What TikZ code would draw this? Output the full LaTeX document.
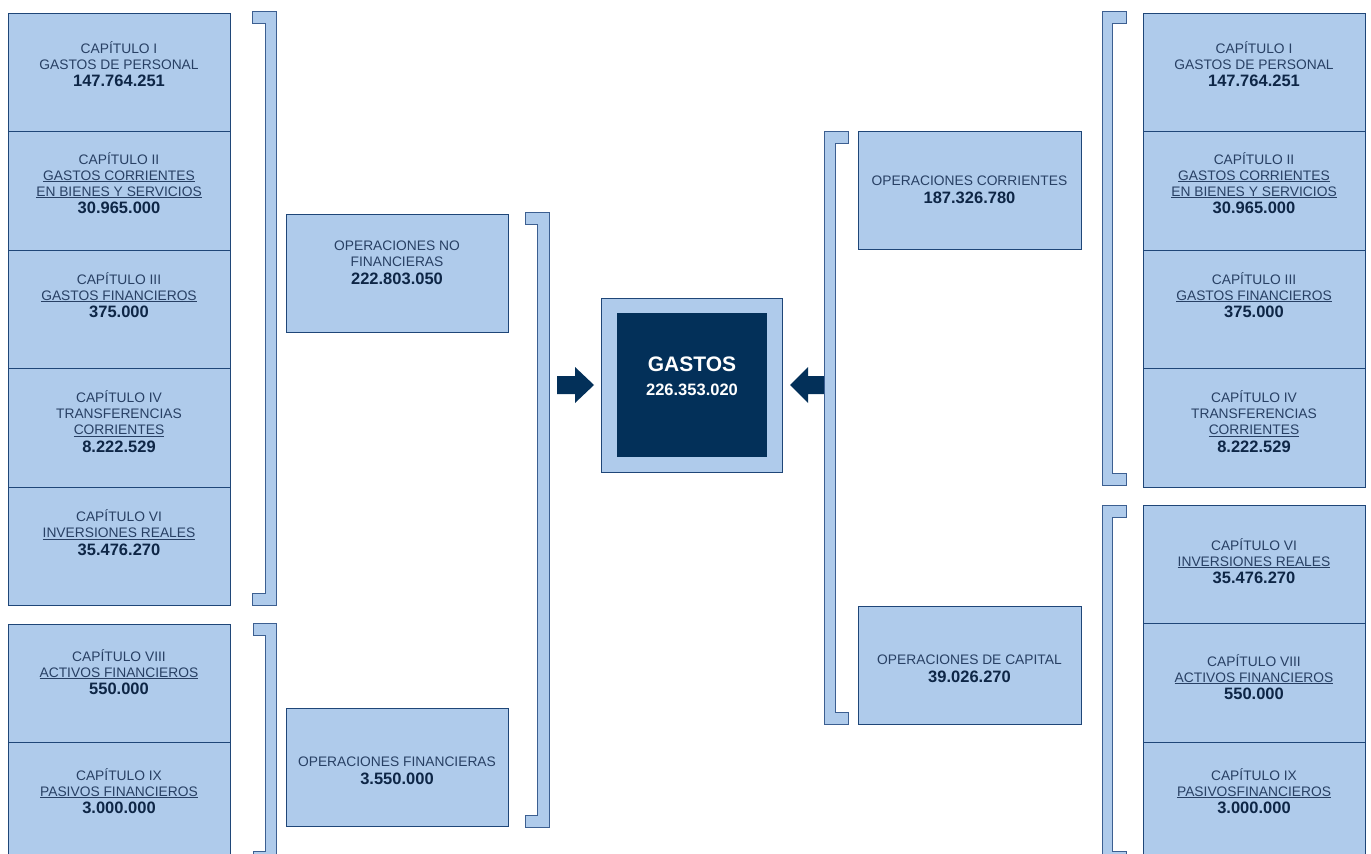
\documentclass[tikz,border=0pt]{standalone}
\usepackage{fontspec}
\setmainfont{Liberation Sans}
\definecolor{lb}{RGB}{175,203,235}
\definecolor{bd}{RGB}{31,70,120}
\definecolor{brc}{RGB}{60,95,145}
\definecolor{tx}{RGB}{40,64,100}
\definecolor{numc}{RGB}{14,38,70}
\definecolor{navy}{RGB}{3,48,89}
\newcommand\nmb[1]{{\fontsize{16.5}{16}\selectfont\bfseries\color{numc}#1}}
\newcommand\uln[1]{\underline{#1}}
\begin{document}
\begin{tikzpicture}[x=1pt,y=-1pt,
  box/.style={draw=bd, fill=lb, line width=0.9pt, inner sep=0pt},
  txt/.style={text=tx, align=center, font=\fontsize{13.8}{16}\selectfont, inner sep=0pt},
  brk/.style={draw=brc, fill=lb, line width=0.8pt, line join=miter},
  arr/.style={fill=navy, draw=none}
]
\useasboundingbox[fill=white] (0,0) rectangle (1371,854);

% ---------- left column ----------
\node[box, minimum width=222pt, minimum height=118pt] (L1) at (119,72) {};
\node[box, minimum width=222pt, minimum height=119pt] (L2) at (119,190.5) {};
\node[box, minimum width=222pt, minimum height=118pt] (L3) at (119,309) {};
\node[box, minimum width=222pt, minimum height=119pt] (L4) at (119,427.5) {};
\node[box, minimum width=222pt, minimum height=118pt] (L6) at (119,546) {};
\node[box, minimum width=222pt, minimum height=118pt] (L8) at (119,683) {};
\node[box, minimum width=222pt, minimum height=119pt] (L9) at (119,801.5) {};

\node[txt] (tL1) at (119,64) {CAPÍTULO I\\GASTOS DE PERSONAL\\[1.5pt]\nmb{147.764.251}};
\node[txt] (tL2) at (119,183) {CAPÍTULO II\\\uln{GASTOS CORRIENTES}\\\uln{EN BIENES Y SERVICIOS}\\[1.5pt]\nmb{30.965.000}};
\node[txt] (tL3) at (119,295) {CAPÍTULO III\\\uln{GASTOS FINANCIEROS}\\[1.5pt]\nmb{375.000}};
\node[txt] (tL4) at (119,421.5) {CAPÍTULO IV\\TRANSFERENCIAS\\\uln{CORRIENTES}\\[1.5pt]\nmb{8.222.529}};
\node[txt] (tL6) at (119,532.5) {CAPÍTULO VI\\\uln{INVERSIONES REALES}\\[1.5pt]\nmb{35.476.270}};
\node[txt] (tL8) at (119,672) {CAPÍTULO VIII\\\uln{ACTIVOS FINANCIEROS}\\[1.5pt]\nmb{550.000}};
\node[txt] (tL9) at (119,791) {CAPÍTULO IX\\\uln{PASIVOS FINANCIEROS}\\[1.5pt]\nmb{3.000.000}};

% ---------- left brackets ----------
\draw[brk] (252,11) -- (276,11) -- (276,605) -- (252,605) -- (252,593) -- (265,593) -- (265,23) -- (252,23) -- cycle;
\draw[brk] (253,623) -- (276,623) -- (276,866) -- (253,866) -- (253,851) -- (265,851) -- (265,635) -- (253,635) -- cycle;

% ---------- middle-left boxes ----------
\node[box, minimum width=222pt, minimum height=118pt] (ONF) at (397,273) {};
\node[txt] (tONF) at (397,263) {OPERACIONES NO\\FINANCIERAS\\[1.5pt]\nmb{222.803.050}};
\node[box, minimum width=222pt, minimum height=118pt] (OF) at (397,767) {};
\node[txt] (tOF) at (397,771) {OPERACIONES FINANCIERAS\\[1.5pt]\nmb{3.550.000}};

\draw[brk] (525,212) -- (549,212) -- (549,827) -- (525,827) -- (525,815) -- (537,815) -- (537,224) -- (525,224) -- cycle;

% ---------- centre ----------
\node[box, minimum width=181pt, minimum height=174pt] (G) at (691.5,385) {};
\node[fill=navy, draw=none, minimum width=150pt, minimum height=144pt, inner sep=0pt] (Gin) at (692,385) {};
\node[align=center, inner sep=0pt, text=white, font=\fontsize{21}{24}\selectfont] (tG) at (692,376)
  {{\bfseries GASTOS}\\{\fontsize{16.5}{16}\selectfont\bfseries 226.353.020}};

\fill[arr] (557,376) -- (575,376) -- (575,367) -- (594,385) -- (575,403) -- (575,394) -- (557,394) -- cycle;
\fill[arr] (825,376) -- (808,376) -- (808,367) -- (790,385) -- (808,403) -- (808,394) -- (825,394) -- cycle;

% ---------- middle-right ----------
\draw[brk] (824,131) -- (848,131) -- (848,143) -- (835,143) -- (835,712) -- (848,712) -- (848,724) -- (824,724) -- cycle;
\node[box, minimum width=223pt, minimum height=118pt] (OC) at (969.5,190) {};
\node[txt] (tOC) at (969.5,190) {OPERACIONES CORRIENTES\\[1.5pt]\nmb{187.326.780}};
\node[box, minimum width=223pt, minimum height=118pt] (OK) at (969.5,665) {};
\node[txt] (tOK) at (969.5,669) {OPERACIONES DE CAPITAL\\[1.5pt]\nmb{39.026.270}};

% ---------- right brackets ----------
\draw[brk] (1102,11) -- (1126,11) -- (1126,23) -- (1112,23) -- (1112,473) -- (1126,473) -- (1126,485) -- (1102,485) -- cycle;
\draw[brk] (1102,505) -- (1126,505) -- (1126,517) -- (1112,517) -- (1112,851) -- (1126,851) -- (1126,866) -- (1102,866) -- cycle;

% ---------- right column ----------
\node[box, minimum width=222pt, minimum height=118pt] (R1) at (1254,72) {};
\node[box, minimum width=222pt, minimum height=119pt] (R2) at (1254,190.5) {};
\node[box, minimum width=222pt, minimum height=118pt] (R3) at (1254,309) {};
\node[box, minimum width=222pt, minimum height=119pt] (R4) at (1254,427.5) {};
\node[box, minimum width=222pt, minimum height=118pt] (R6) at (1254,564) {};
\node[box, minimum width=222pt, minimum height=119pt] (R8) at (1254,682.5) {};
\node[box, minimum width=222pt, minimum height=119pt] (R9) at (1254,801.5) {};

\node[txt] (tR1) at (1254,64) {CAPÍTULO I\\GASTOS DE PERSONAL\\[1.5pt]\nmb{147.764.251}};
\node[txt] (tR2) at (1254,183) {CAPÍTULO II\\\uln{GASTOS CORRIENTES}\\\uln{EN BIENES Y SERVICIOS}\\[1.5pt]\nmb{30.965.000}};
\node[txt] (tR3) at (1254,295) {CAPÍTULO III\\\uln{GASTOS FINANCIEROS}\\[1.5pt]\nmb{375.000}};
\node[txt] (tR4) at (1254,421.5) {CAPÍTULO IV\\TRANSFERENCIAS\\\uln{CORRIENTES}\\[1.5pt]\nmb{8.222.529}};
\node[txt] (tR6) at (1254,561) {CAPÍTULO VI\\\uln{INVERSIONES REALES}\\[1.5pt]\nmb{35.476.270}};
\node[txt] (tR8) at (1254,677) {CAPÍTULO VIII\\\uln{ACTIVOS FINANCIEROS}\\[1.5pt]\nmb{550.000}};
\node[txt] (tR9) at (1254,791) {CAPÍTULO IX\\\uln{PASIVOSFINANCIEROS}\\[1.5pt]\nmb{3.000.000}};
\end{tikzpicture}
\end{document}
